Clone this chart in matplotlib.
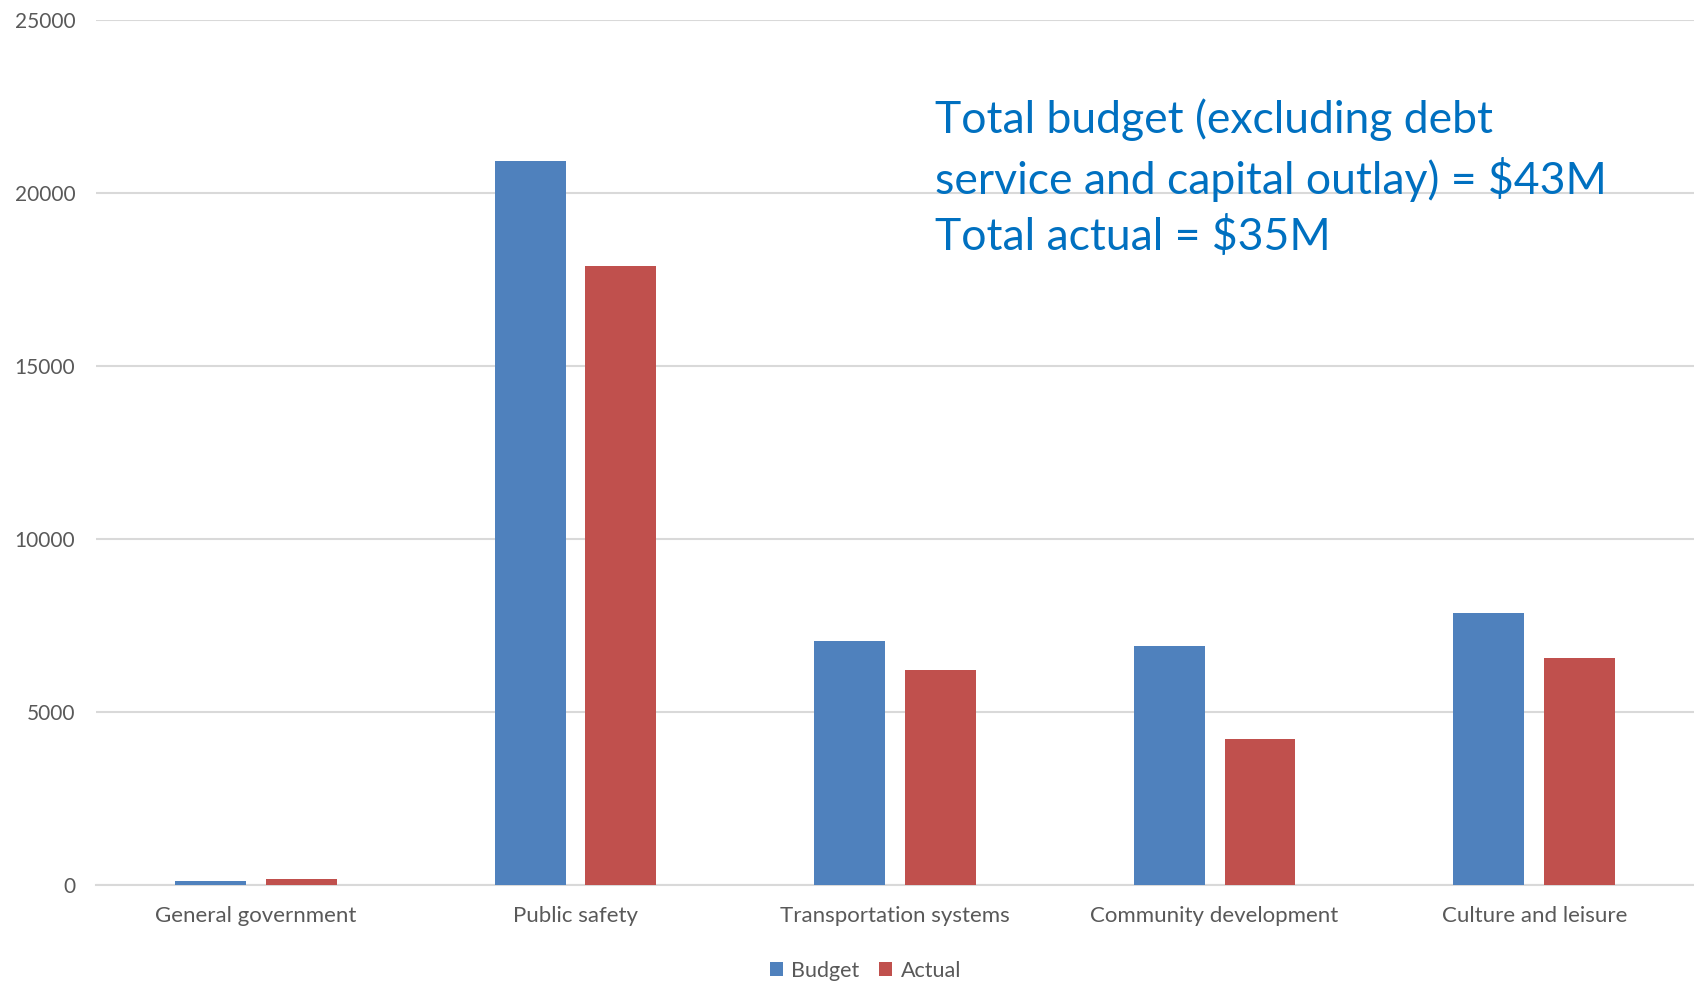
import numpy as np
import matplotlib.pyplot as plt

plt.rcParams['font.family'] = ['Lato', 'DejaVu Sans']

categories = ["General government", "Public safety", "Transportation systems",
              "Community development", "Culture and leisure"]
budget = [105, 20920, 7060, 6900, 7870]
actual = [185, 17900, 6220, 4220, 6560]

fig = plt.figure(figsize=(16.94, 9.81), dpi=100)
ax = fig.add_axes([0.0567, 0.0979, 0.9433, 0.8817])

x = np.arange(len(categories))
w = 0.222
ax.bar(x - 0.142, budget, w, color="#4F81BD", label="Budget", zorder=3)
ax.bar(x + 0.142, actual, w, color="#C0504D", label="Actual", zorder=3)

ax.set_xlim(-0.5, len(categories) - 0.5)
ax.set_ylim(0, 25000)
ax.set_yticks(range(0, 25001, 5000))
ax.yaxis.grid(True, color="#D9D9D9", linewidth=1.5, zorder=0)
for s in ["top", "right", "left"]:
    ax.spines[s].set_visible(False)
ax.spines["bottom"].set_color("#D9D9D9")
ax.spines["bottom"].set_linewidth(1.5)
ax.tick_params(length=0, labelsize=16, labelcolor="#595959")
ax.tick_params(axis="y", pad=15, labelsize=15)
ax.tick_params(axis="x", pad=15)
ax.set_xticks(x)
ax.set_xticklabels(categories)

ax.text(0.525, 0.909, "Total budget (excluding debt\nservice and capital outlay) = $43M\nTotal actual = $35M",
        transform=ax.transAxes, fontsize=32, color="#0070C0", va="top", ha="left",
        linespacing=1.42)

ax.legend(loc="upper center", bbox_to_anchor=(0.4815, -0.065), ncol=2, frameon=False,
          fontsize=15.5, labelcolor="#595959", handlelength=0.6, handleheight=0.6,
          handletextpad=0.4, columnspacing=0.9)

fig.savefig("out.png")
